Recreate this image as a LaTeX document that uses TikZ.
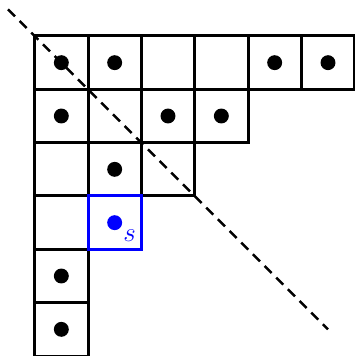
\documentclass[tikz,border=0pt]{standalone}

\begin{document}
\begin{tikzpicture}[line width=1.6pt]
  \useasboundingbox (-0.65,-6.0) rectangle (6.0,0.675);
  % rows of the diagram, top to bottom
  \foreach \r/\len in {1/6,2/4,3/3,4/2,5/1,6/1}{
    \foreach \c in {1,...,\len}{ \draw (\c-1,-\r+1) rectangle (\c,-\r); } }
  \foreach \c/\r in {1/1,2/1,5/1,6/1,1/2,3/2,4/2,2/3,1/5,1/6}{
    \fill (\c-0.5,-\r+0.5) circle (0.14); }
  % the marked cell
  \draw[blue] (1,-3) rectangle (2,-4);
  \fill[blue] (1.5,-3.5) circle (0.14);
  \node[blue,font=\Large] (s) at (1.78,-3.74) {$s$};
  \draw[line width=1.3pt, dash pattern=on 5.3pt off 3.5pt] (-0.5,0.5) -- (5.5,-5.5);
\end{tikzpicture}
\end{document}
